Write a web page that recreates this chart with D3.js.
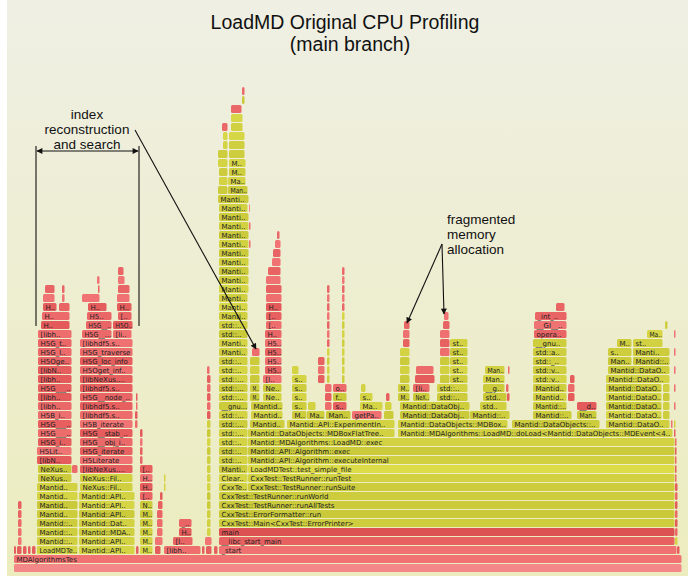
<!DOCTYPE html>
<html>
<head>
<meta charset="utf-8">
<script src="https://cdn.jsdelivr.net/npm/d3@7"></script>
<style>
  body { margin: 0; background: #fff; }
  svg { display: block; }
</style>
</head>
<body>
<script>
// flame graph of LoadMD, sample counts
// each frame: [depth, startSample, endSample, label, kind]  kind: r = native, y = c++
var totalSamples = 668;

var baseFrames = [
  [0, 0, 668, '', 'root'],
  [1, 0, 668, 'MDAlgorithmsTes', 'r'],
  [2, 205, 663, '_start', 'r'],
  [3, 205, 661, '__libc_start_main', 'r'],
  [4, 205, 661, 'main', 'm'],
  [5, 205, 661, 'CxxTest::Main<CxxTest::ErrorPrinter>', 'y'],
  [6, 205, 661, 'CxxTest::ErrorFormatter::run', 'y'],
  [7, 205, 661, 'CxxTest::TestRunner::runAllTests', 'y'],
  [8, 205, 661, 'CxxTest::TestRunner::runWorld', 'y'],
  [9, 205, 234, 'CxxTe..', 'y'], [9, 234, 661, 'CxxTest::TestRunner::runSuite', 'y'],
  [10, 205, 234, 'Clear..', 'y'], [10, 234, 661, 'CxxTest::TestRunner::runTest', 'y'],
  [11, 205, 234, 'Manti..', 'y'], [11, 234, 661, 'LoadMDTest::test_simple_file', 'l'],
  [12, 234, 661, 'Mantid::API::Algorithm::executeInternal', 'y'],
  [13, 234, 661, 'Mantid::API::Algorithm::exec', 'y'],
  [14, 234, 661, 'Mantid::MDAlgorithms::LoadMD::exec', 'y'],
  [15, 234, 381, 'Mantid::DataObjects::MDBoxFlatTree..', 'y'],
  [15, 384, 659, 'Mantid::MDAlgorithms::LoadMD::doLoad<Mantid::DataObjects::MDEvent<4..', 'y']
];

// other threads left of _start
var threadFrames = [
  [2, 0, 2.5, '', 'r'], [2, 3, 8, '', 'r'], [2, 9, 13, '', 'r'], [2, 14, 17, '', 'r'], [2, 18, 22, '', 'r'],
  [2, 23, 64, 'LoadMDTe..', 'y'], [2, 65, 121, 'Mantid::API..', 'y'], [2, 122, 125, '', 'r'],
  [2, 126, 139, 'M..', 'y'], [2, 141, 147, '', 'r'], [2, 150, 187, '[libh..', 'r'],
  [2, 188, 191, '', 'r'], [2, 192, 198, '', 'r'], [2, 200, 204, '', 'r'], [2, 663, 666, '', 'r'],
  [3, 4, 8, '', 'r'], [3, 23, 64, 'Mantid::..', 'y'], [3, 65, 121, 'Mantid::API..', 'y'],
  [3, 126, 139, 'M..', 'y'], [3, 141, 149, '', 'r'], [3, 159, 179, '[l..', 'r'], [3, 191, 198, '', 'r'],
  [4, 4, 8, '', 'r'], [4, 23, 64, 'Mantid::..', 'y'], [4, 65, 121, 'Mantid::MDA..', 'y'],
  [4, 126, 139, 'M..', 'y'], [4, 143, 149, '', 'r'], [4, 165, 178, 'H..', 'r'], [4, 193, 197, '', 'y'],
  [5, 4, 8, '', 'r'], [5, 23, 64, 'Mantid::..', 'y'], [5, 65, 121, 'Mantid::Dat..', 'y'],
  [5, 126, 139, 'M..', 'y'], [5, 143, 149, '', 'r'], [5, 165, 178, '_..', 'r'], [5, 193, 197, '', 'y'],
  [6, 4, 8, '', 'r'], [6, 23, 64, 'Mantid..', 'y'], [6, 65, 121, 'Mantid::API..', 'y'],
  [6, 126, 139, 'M..', 'y'], [6, 143, 149, '', 'r'], [6, 193, 197, '', 'y'],
  [7, 4, 8, '', 'r'], [7, 23, 64, 'Mantid..', 'y'], [7, 65, 121, 'Mantid::API..', 'y'],
  [7, 126, 139, 'N..', 'y'], [7, 144, 149, '', 'r'], [7, 193, 197, '', 'y'],
  [8, 23, 64, 'Mantid..', 'y'], [8, 65, 121, 'Mantid::API..', 'y'], [8, 126, 139, '[..', 'r'],
  [8, 146, 149, '', 'r'], [8, 193, 197, '', 'y'],
  [9, 23, 64, 'Mantid..', 'y'], [9, 66, 119, 'NeXus::Fil..', 'y'], [9, 126, 139, 'H..', 'r'],
  [9, 150, 152, '', 'y'], [9, 193, 197, '', 'y'],
  [10, 24, 58, 'NeXus..', 'y'], [10, 66, 119, 'NeXus::Fil..', 'y'], [10, 126, 139, 'H..', 'r'],
  [10, 150, 152, '', 'y'], [10, 193, 197, '', 'y'],
  [11, 24, 58, 'NeXus..', 'y'], [11, 58, 64, '', 'r'], [11, 66, 119, '[libNeXus....', 'r'],
  [11, 126, 139, '[..', 'r'], [11, 193, 197, '', 'y']
];

// hdf5 index reconstruction stacks
var indexFrames = [
  [12, 23, 58, '[libN..', 'r'], [12, 66, 119, 'H5Literate', 'r'], [12, 126, 129, '', 'r'], [12, 193, 197, '', 'y'],
  [13, 23, 58, 'H5Lit..', 'r'], [13, 66, 119, 'H5G_iterate', 'r'], [13, 126, 129, '', 'r'], [13, 193, 197, '', 'y'],
  [14, 24, 58, 'H5G_i..', 'r'], [14, 66, 119, 'H5G__obj_i..', 'r'], [14, 126, 129, '', 'r'], [14, 193, 197, '', 'y'],
  [15, 24, 58, 'H5G___..', 'r'], [15, 66, 119, 'H5G__stab_..', 'r'], [15, 126, 129, '', 'r'], [15, 193, 197, '', 'y'],
  [16, 24, 58, 'H5G___..', 'r'], [16, 66, 119, 'H5B_iterate', 'r'], [16, 121, 124, '', 'r'], [16, 193, 197, '', 'y'],
  [17, 24, 58, 'H5B_i..', 'r'], [17, 66, 119, '[libhdf5.s..', 'r'], [17, 121, 124, '', 'r'], [17, 193, 197, '', 'r'],
  [18, 24, 58, '[libh..', 'r'], [18, 66, 119, '[libhdf5.s..', 'r'], [18, 122, 124, '', 'r'], [18, 193, 197, '', 'r'],
  [19, 24, 58, '[libh..', 'r'], [19, 66, 119, 'H5G__node_..', 'r'], [19, 122, 124, '', 'r'], [19, 193, 197, '', 'r'],
  [20, 24, 58, 'H5G___..', 'r'], [20, 66, 119, '[libhdf5.s..', 'r'], [20, 193, 197, '', 'r'],
  [21, 24, 58, '[libh..', 'r'], [21, 66, 119, '[libNeXus....', 'r'], [21, 193, 197, '', 'r'],
  [22, 24, 58, '[libN..', 'r'], [22, 66, 119, 'H5Oget_inf..', 'r'], [22, 193, 196, '', 'r'],
  [23, 24, 58, 'H5Oge..', 'r'], [23, 66, 119, 'H5G_loc_info', 'r'],
  [24, 24, 58, 'H5G_l..', 'r'], [24, 66, 119, 'H5G_traverse', 'r'],
  [25, 24, 58, 'H5G_t..', 'r'], [25, 66, 119, '[libhdf5.s..', 'r'],
  [26, 24, 58, '[libh..', 'r'], [26, 68, 98, 'H5G__...', 'r'], [26, 99, 118, '[li..', 'r'],
  [27, 27, 56, 'H..', 'r'], [27, 72, 98, 'H5G__..', 'r'], [27, 99, 119, 'H5O..', 'r'],
  [28, 28, 56, 'H..', 'r'], [28, 73, 98, 'H5..', 'r'], [28, 104, 118, '[..', 'r'],
  [29, 29, 43, 'H..', 'r'], [29, 45, 56, '', 'r'], [29, 74, 93, 'H..', 'r'], [29, 103, 118, 'H..', 'r'],
  [30, 29, 41, '', 'r'], [30, 48, 51, '', 'r'], [30, 68, 86, '', 'r'], [30, 103, 116, '', 'r'],
  [31, 31, 41, '', 'r'], [31, 48, 51, '', 'r'], [31, 84, 86, '', 'r'], [31, 104, 116, '', 'r'],
  [32, 83, 86, '', 'r'], [32, 104, 111, '', 'r'],
  [33, 104, 110, '', 'r']
];

// std:: column beside the test runner
var stdFrames = [
  [12, 205, 234, 'std::..', 'y'], [13, 205, 234, 'std::..', 'y'], [14, 205, 234, 'std::..', 'y'],
  [15, 205, 234, 'std::...', 'y'], [16, 205, 234, 'std::...', 'y'], [17, 205, 234, 'std::...', 'y'],
  [18, 205, 234, '__gnu...', 'y'], [19, 205, 234, 'std::...', 'y'], [20, 205, 234, 'std::...', 'y'],
  [21, 205, 234, 'std::...', 'y'], [22, 205, 234, 'std::..', 'y'], [23, 205, 234, 'std::..', 'y'],
  [24, 205, 234, 'Manti..', 'y'], [25, 205, 234, 'Manti..', 'y'], [26, 205, 234, 'std::..', 'y'],
  [27, 205, 234, 'std::..', 'y'], [28, 205, 234, 'Manti..', 'y'], [29, 205, 234, 'Manti..', 'y'],
  [30, 205, 234, 'Manti..', 'y'], [31, 205, 235, 'Manti..', 'y'], [32, 205, 235, 'Manti..', 'y'],
  [33, 205, 235, 'Manti..', 'y'], [34, 205, 235, 'Manti..', 'y'], [35, 205, 235, 'Manti..', 'y'],
  [36, 205, 235, 'Manti..', 'y'], [37, 205, 235, 'Manti..', 'y'], [38, 205, 235, 'Manti..', 'y'],
  [39, 205, 235, 'Manti..', 'y'], [40, 205, 234, 'Manti..', 'y'], [41, 204, 235, 'Manti..', 'y'],
  [42, 204, 214, '', 'y'], [42, 214, 234, 'Man..', 'y'],
  [43, 205, 214, '', 'y'], [43, 214, 232, 'Ma..', 'y'],
  [44, 205, 214, '', 'y'], [44, 215, 232, 'M..', 'y'],
  [45, 204, 214, '', 'y'], [45, 215, 232, 'M..', 'y'],
  [46, 204, 214, '', 'y'], [46, 215, 231, '', 'y'],
  [47, 209, 214, '', 'y'], [47, 215, 231, '', 'y'],
  [48, 209, 214, '', 'y'], [48, 215, 231, '', 'y'],
  [49, 208, 214, '', 'r'], [49, 217, 229, '', 'y'],
  [50, 217, 229, '', 'y'], [51, 217, 228, '', 'r'],
  [52, 228, 231, '', 'y'], [53, 228, 231, '', 'r'],
  [36, 235, 237, '', 'r'], [38, 235, 237, '', 'r'], [40, 235, 236, '', 'r']
];

// MDBoxFlatTree branch: Mantid.. and ExperimentInfo
var flatTreeFrames = [
  [16, 236, 271, 'Mantid..', 'y'],
  [17, 237, 269, 'Mantid..', 'y'], [18, 237, 269, 'Mantid..', 'y'],
  [19, 236, 246, 'M..', 'y'], [19, 249, 268, 'Ne..', 'y'],
  [20, 236, 246, 'M..', 'y'], [20, 249, 268, 'Ne..', 'y'],
  [21, 236, 246, '', 'y'], [21, 249, 268, '[l..', 'r'],
  [22, 236, 246, '', 'y'], [22, 251, 268, 'H5..', 'r'],
  [23, 236, 246, '', 'y'], [23, 251, 268, 'H5..', 'r'],
  [24, 238, 246, '', 'r'], [24, 251, 268, 'H5..', 'r'],
  [25, 251, 268, 'H5..', 'r'], [26, 251, 268, 'H..', 'r'],
  [27, 252, 268, '[..', 'r'], [28, 252, 268, '[..', 'r'], [29, 252, 268, 'H..', 'r'],
  [30, 252, 268, '', 'r'], [31, 252, 268, '', 'r'], [32, 252, 267, '', 'r'],
  [33, 254, 267, '', 'r'], [34, 258, 267, '', 'r'], [35, 259, 267, '', 'r'],
  [36, 261, 267, '', 'r'], [37, 263, 266, '', 'r'],
  [16, 273, 381, 'Mantid::API::ExperimentIn..', 'y'],
  [17, 278, 293, 'M..', 'y'], [17, 293, 311, 'Ma..', 'y'], [17, 312, 337, 'Man..', 'y'],
  [17, 338, 368, 'getPa..', 'r'], [17, 370, 380, '', 'y'],
  [18, 278, 293, 's..', 'y'], [18, 294, 302, '', 'y'], [18, 311, 318, '', 'r'],
  [18, 319, 333, 's..', 'r'], [18, 346, 369, 'Ma..', 'y'], [18, 371, 378, '', 'y'],
  [19, 278, 293, 's..', 'y'], [19, 311, 318, '', 'r'], [19, 319, 333, 'f..', 'y'],
  [19, 346, 359, 's..', 'y'], [19, 372, 376, '', 'r'],
  [20, 278, 293, 's..', 'y'], [20, 311, 318, '', 'r'], [20, 319, 333, 'o..', 'r'], [20, 347, 352, '', 'y'],
  [21, 278, 293, 's..', 'y'], [21, 304, 311, '', 'r'], [21, 313, 316, '', 'y'], [21, 328, 331, '', 'y'],
  [22, 278, 285, '', 'y'], [22, 304, 311, '', 'r'], [22, 313, 316, '', 'y'], [22, 328, 331, '', 'y'],
  [23, 304, 311, '', 'r'], [23, 313, 316, '', 'y'], [23, 328, 331, '', 'y'],
  [24, 313, 316, '', 'y'], [24, 328, 331, '', 'y'],
  [25, 313, 316, '', 'r'], [25, 328, 331, '', 'y'],
  [26, 313, 316, '', 'r'], [26, 328, 331, '', 'y'],
  [27, 313, 316, '', 'r'], [27, 328, 331, '', 'y'],
  [28, 313, 316, '', 'r'], [28, 328, 331, '', 'y'],
  [29, 313, 316, '', 'r'], [29, 328, 331, '', 'r'],
  [30, 313, 316, '', 'r'], [30, 328, 331, '', 'r'],
  [31, 313, 316, '', 'r'], [31, 328, 331, '', 'r'],
  [32, 328, 331, '', 'r'], [33, 328, 331, '', 'r']
];

// LoadMD::doLoad branch: box reading and event allocation
var doLoadFrames = [
  [16, 384, 494, 'Mantid::DataObjects::MDBox..', 'y'], [16, 498, 586, 'Mantid::DataObjects::..', 'y'],
  [16, 592, 656, 'Mantid::DataO..', 'y'], [16, 657, 659, '', 'r'],
  [17, 386, 456, 'Mantid::DataObj..', 'y'], [17, 456, 496, 'Mantid::..', 'y'], [17, 519, 558, 'Mantid::..', 'y'],
  [17, 563, 583, 'Man..', 'y'], [17, 592, 648, 'Mantid::DataO..', 'y'], [17, 649, 656, '', 'y'],
  [18, 386, 456, 'Mantid::DataObj..', 'y'], [18, 466, 493, 'std..', 'y'], [18, 519, 553, 'Mantid::..', 'y'],
  [18, 563, 583, '__d..', 'r'], [18, 592, 648, 'Mantid::DataO..', 'y'], [18, 649, 656, '', 'y'],
  [19, 384, 396, 'M..', 'y'], [19, 399, 416, 'NeX..', 'y'], [19, 423, 454, 'std::..', 'y'],
  [19, 469, 493, 'std..', 'y'], [19, 493, 496, '', 'r'], [19, 519, 553, 'Mantid..', 'y'],
  [19, 554, 561, '', 'r'], [19, 592, 648, 'Mantid::DataO..', 'y'], [19, 649, 656, '', 'y'],
  [20, 384, 396, 'M..', 'y'], [20, 399, 416, '[li..', 'r'], [20, 423, 454, 'std::..', 'y'],
  [20, 469, 491, '__g..', 'y'], [20, 492, 495, '', 'r'], [20, 519, 553, 'Mantid..', 'y'],
  [20, 554, 561, '', 'r'], [20, 592, 648, 'Mantid::DataO..', 'y'], [20, 649, 656, '', 'y'],
  [21, 386, 396, '', 'y'], [21, 401, 421, '', 'r'], [21, 426, 436, '', 'y'], [21, 436, 454, 'st..', 'y'],
  [21, 469, 491, 'Man..', 'y'], [21, 519, 553, 'std::v..', 'y'], [21, 556, 561, '', 'r'],
  [21, 592, 656, 'Mantid::DataO..', 'y'],
  [22, 386, 396, '', 'y'], [22, 402, 420, '', 'r'], [22, 426, 436, '', 'y'], [22, 436, 454, 'st..', 'y'],
  [22, 471, 491, 'Man..', 'y'], [22, 494, 496, '', 'r'], [22, 519, 553, 'std::v..', 'y'],
  [22, 594, 656, 'Mantid::DataO..', 'y'],
  [23, 386, 396, '', 'y'], [23, 426, 436, '', 'y'], [23, 436, 454, 'st..', 'y'],
  [23, 519, 553, 'std::_..', 'y'], [23, 594, 618, 'Man..', 'y'], [23, 619, 656, 'Mantid::..', 'y'],
  [24, 386, 396, '', 'y'], [24, 426, 436, '', 'r'], [24, 436, 454, 'st..', 'y'],
  [24, 519, 553, 'std::a..', 'y'], [24, 594, 618, 's..', 'y'], [24, 619, 656, 'Manti..', 'y'],
  [25, 389, 396, '', 'r'], [25, 426, 436, '', 'r'], [25, 436, 454, 'st..', 'y'],
  [25, 519, 553, '__gnu..', 'y'], [25, 603, 618, 'M..', 'y'], [25, 619, 649, 'st..', 'y'],
  [26, 389, 396, '', 'r'], [26, 426, 436, '', 'r'], [26, 520, 553, 'opera..', 'r'], [26, 633, 649, 'Ma..', 'y'],
  [27, 390, 396, '', 'r'], [27, 429, 436, '', 'r'], [27, 520, 553, '__GI__..', 'r'], [27, 651, 654, '', 'y'],
  [28, 430, 435, '', 'r'], [28, 521, 553, '_int_..', 'r'],
  [29, 542, 551, '', 'r']
];

// thin slivers at the right end of the test runner
var tailFrames = [
  [3, 661, 664, '', 'y'], [4, 661, 664, '', 'r'], [5, 661, 664, '', 'r'], [6, 661, 664, '', 'r'],
  [7, 661, 664, '', 'r'], [8, 661, 664, '', 'r'], [9, 661, 664, '', 'r'], [10, 661, 663, '', 'r'],
  [11, 661, 663, '', 'r'], [12, 661, 663, '', 'r'], [13, 661, 663, '', 'r'], [14, 661, 663, '', 'r'],
  [15, 660, 662, '', 'r'], [16, 660, 662, '', 'y'], [18, 660, 662, '', 'r'], [20, 660, 662, '', 'r'],
  [22, 660, 662, '', 'r'], [24, 660, 662, '', 'r'], [26, 660, 662, '', 'r']
];

var frames = [].concat(baseFrames, threadFrames, indexFrames, stdFrames, flatTreeFrames, doLoadFrames, tailFrames);

var W = 694, H = 576;
var rowH = 9, frameH = 8;

var svg = d3.select("body").append("svg")
    .attr("width", W)
    .attr("height", H);

var defs = svg.append("defs");
var grad = defs.append("linearGradient")
    .attr("id", "bg")
    .attr("x1", "0").attr("y1", "0").attr("x2", "0").attr("y2", "1");
grad.append("stop").attr("offset", "0%").attr("stop-color", "#efefe4");
grad.append("stop").attr("offset", "100%").attr("stop-color", "#ececbe");

defs.append("marker")
    .attr("id", "arrow")
    .attr("viewBox", "0 0 10 10")
    .attr("refX", 9).attr("refY", 5)
    .attr("markerWidth", 7).attr("markerHeight", 6)
    .attr("markerUnits", "userSpaceOnUse")
    .attr("orient", "auto-start-reverse")
    .append("path")
    .attr("d", "M0,0 L10,5 L0,10 z")
    .attr("fill", "#111");

svg.append("rect")
    .attr("x", 7).attr("y", 0)
    .attr("width", 681).attr("height", H)
    .attr("fill", "url(#bg)");

// scales
var x = d3.scaleLinear()
    .domain([0, totalSamples])
    .range([14, 682]);

var y = d3.scaleLinear()
    .domain([0, 1])
    .range([564, 564 - rowH]);

// cheap string hash so colours vary a bit like flamegraph.pl does
function hash(s) {
    var h = 0;
    for (var i = 0; i < s.length; i++) {
        h = (h * 31 + s.charCodeAt(i)) % 1000;
    }
    return h / 1000;
}

var redShade = d3.interpolateRgb("#e45a5a", "#f27676"),
    yellowShade = d3.interpolateRgb("#c9c93a", "#d6d647");

function frameColor(d, i) {
    var v = hash(d[3] + ":" + d[0] + ":" + i);
    if (d[4] == 'root') return "#f48787";
    if (d[4] == 'm') return "#dc5252";
    if (d[4] == 'l') return "#dcdc48";
    if (d[4] == 'r') return redShade(v);
    return yellowShade(v);
}

var flame = svg.append("g").attr("class", "flame");

var cells = flame.selectAll("g")
    .data(frames)
    .enter()
    .append("g");

cells.append("rect")
    .attr("x", function (d) { return x(d[1]); })
    .attr("y", function (d) { return y(d[0]); })
    .attr("width", function (d) { return Math.max(0.8, x(d[2]) - x(d[1]) - 0.5); })
    .attr("height", frameH)
    .attr("rx", 1.5)
    .attr("fill", function (d, i) { return frameColor(d, i); });

cells.filter(function (d) { return d[3] != ''; })
    .append("text")
    .attr("x", function (d) { return x(d[1]) + 2.5; })
    .attr("y", function (d) { return y(d[0]) + 6.6; })
    .text(function (d) { return d[3]; })
    .style("font-family", "'DejaVu Sans', Verdana, sans-serif")
    .style("font-size", "7px")
    .style("fill", "#222")
    .each(function (d) {
        var room = x(d[2]) - x(d[1]) - 3.5;
        if (this.getComputedTextLength() > room) {
            d3.select(this)
                .attr("textLength", room)
                .attr("lengthAdjust", "spacingAndGlyphs");
        }
    });

// title
var title = svg.append("g")
    .style("font-family", "'Liberation Sans', Arial, sans-serif")
    .style("fill", "#111")
    .attr("text-anchor", "middle");
title.append("text").attr("x", 345).attr("y", 29).style("font-size", "19.5px")
    .text("LoadMD Original CPU Profiling");
title.append("text").attr("x", 350).attr("y", 51).style("font-size", "19.5px")
    .text("(main branch)");

// annotations
var notes = svg.append("g")
    .style("font-family", "'Liberation Sans', Arial, sans-serif")
    .style("font-size", "13.5px")
    .style("fill", "#111");

notes.append("text").attr("x", 87).attr("y", 119).attr("text-anchor", "middle").text("index");
notes.append("text").attr("x", 87).attr("y", 134).attr("text-anchor", "middle").text("reconstruction");
notes.append("text").attr("x", 87).attr("y", 149).attr("text-anchor", "middle").text("and search");

notes.append("text").attr("x", 447).attr("y", 224).text("fragmented");
notes.append("text").attr("x", 447).attr("y", 239).text("memory");
notes.append("text").attr("x", 447).attr("y", 254).text("allocation");

var lines = svg.append("g")
    .attr("stroke", "#111")
    .attr("stroke-width", 1.1)
    .attr("fill", "none");

lines.append("line").attr("x1", 36).attr("y1", 146).attr("x2", 36).attr("y2", 326);
lines.append("line").attr("x1", 139).attr("y1", 146).attr("x2", 139).attr("y2", 326);
lines.append("line").attr("x1", 37).attr("y1", 151).attr("x2", 138).attr("y2", 151)
    .attr("marker-start", "url(#arrow)")
    .attr("marker-end", "url(#arrow)");
lines.append("line").attr("x1", 135).attr("y1", 130).attr("x2", 256).attr("y2", 349)
    .attr("marker-end", "url(#arrow)");
lines.append("line").attr("x1", 442).attr("y1", 244).attr("x2", 407).attr("y2", 323)
    .attr("marker-end", "url(#arrow)");
lines.append("line").attr("x1", 442).attr("y1", 244).attr("x2", 444).attr("y2", 314)
    .attr("marker-end", "url(#arrow)");
</script>
</body>
</html>
